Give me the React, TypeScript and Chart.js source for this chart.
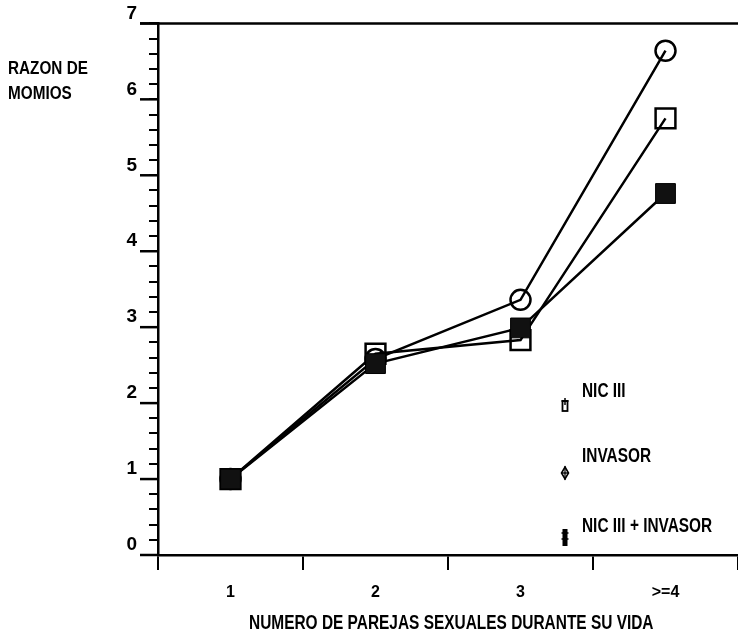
import React, { useEffect, useRef } from "react";
import { Chart, registerables } from "chart.js";
Chart.register(...registerables);

const categories = ["1", "2", "3", ">=4"];
const nicIII = [1.0, 2.65, 2.83, 5.75];
const invasor = [1.0, 2.58, 3.36, 6.64];
const nicInvasor = [1.0, 2.52, 2.99, 4.76];
const yMin = 0;
const yMax = 7;
const yMinorStep = 0.2;
const seriesNames = ["NIC III", "INVASOR", "NIC III + INVASOR"];
const xTitle = "NUMERO DE PAREJAS SEXUALES DURANTE SU VIDA";
const yTitle = ["RAZON DE", "MOMIOS"];

const FONT_FAMILY = '"Liberation Sans", Arial, Helvetica, sans-serif';

const framePlugin = {
  id: "frame",
  afterDraw(chart: any) {
    const { ctx, chartArea, scales } = chart;
    const y = scales.y;
    ctx.save();
    ctx.strokeStyle = "#000";
    ctx.lineWidth = 2.5;
    for (let v = yMin; v <= yMax; v++) {
      const py = y.getPixelForValue(v);
      ctx.beginPath();
      ctx.moveTo(chartArea.left - 18, py);
      ctx.lineTo(chartArea.left, py);
      ctx.stroke();
    }
    const top = y.getPixelForValue(yMax);
    ctx.beginPath();
    ctx.moveTo(chartArea.left - 18, top);
    ctx.lineTo(chartArea.right + 5, top);
    ctx.stroke();
    ctx.restore();
  },
};

export default function App() {
  const ref = useRef<HTMLCanvasElement | null>(null);
  useEffect(() => {
    if (!ref.current) return;
    const chart = new Chart(ref.current, {
      type: "line",
      data: {
        labels: categories,
        datasets: [
          {
            label: seriesNames[2],
            data: nicInvasor,
            order: 0,
            borderColor: "#000",
            borderWidth: 2.5,
            pointStyle: "rect",
            pointRadius: 14,
            pointBackgroundColor: "#111",
            pointBorderColor: "#000",
            pointBorderWidth: 1,
            tension: 0,
          },
          {
            label: seriesNames[0],
            data: nicIII,
            order: 1,
            borderColor: "#000",
            borderWidth: 2.5,
            pointStyle: "rect",
            pointRadius: 14,
            pointBackgroundColor: "rgba(0,0,0,0)",
            pointBorderColor: "#000",
            pointBorderWidth: 2.5,
            tension: 0,
          },
          {
            label: seriesNames[1],
            data: invasor,
            order: 2,
            borderColor: "#000",
            borderWidth: 2.5,
            pointStyle: "circle",
            pointRadius: 10,
            pointBackgroundColor: "rgba(0,0,0,0)",
            pointBorderColor: "#000",
            pointBorderWidth: 2.5,
            tension: 0,
          },
        ],
      },
      options: {
        animation: false,
        responsive: false,
        maintainAspectRatio: false,
        devicePixelRatio: 1,
        layout: { autoPadding: false, padding: { top: 23, right: 0, left: 0, bottom: 0 } },
        plugins: { legend: { display: false }, tooltip: { enabled: false } },
        scales: {
          x: {
            type: "category",
            offset: true,
            afterFit: (s: any) => {
              s.height = 82;
              s.paddingLeft = 0;
              s.paddingRight = 0;
            },
            border: { display: true, color: "#000", width: 2.5 },
            grid: { offset: true, drawOnChartArea: false, tickLength: 15, color: "#000", lineWidth: 2 },
            ticks: { padding: 13, color: "#000", font: { family: FONT_FAMILY, size: 16, weight: "bold" } },
          },
          y: {
            type: "linear",
            min: yMin,
            max: yMax,
            afterFit: (s: any) => {
              s.width = 158;
            },
            border: { display: true, color: "#000", width: 2.5 },
            grid: { drawOnChartArea: false, tickLength: 9, color: "#000", lineWidth: 2 },
            ticks: {
              stepSize: yMinorStep,
              autoSkip: false,
              padding: 12,
              labelOffset: -10,
              color: "#000",
              font: { family: FONT_FAMILY, size: 19, weight: "bold" },
              callback: (v: any) => {
                const n = Number(v);
                return Math.abs(n - Math.round(n)) < 1e-6 ? String(Math.round(n)) : "";
              },
            },
          },
        },
      },
      plugins: [framePlugin],
    });
    return () => chart.destroy();
  }, []);

  const textStyle: React.CSSProperties = {
    position: "absolute",
    fontFamily: FONT_FAMILY,
    fontWeight: "bold",
    fontSize: 20,
    color: "#000",
    whiteSpace: "nowrap",
    lineHeight: "24px",
    transform: "scaleX(0.77)",
    transformOrigin: "left top",
  };

  return (
    <div style={{ position: "absolute", left: 0, top: 0, width: 738, height: 637, background: "#fff", overflow: "hidden" }}>
      <canvas ref={ref} width={738} height={637} style={{ position: "absolute", left: 0, top: 0 }} />
      <div style={{ ...textStyle, fontSize: 18, lineHeight: "25px", transform: "scaleX(0.85)", left: 8, top: 56 }}>
        {yTitle[0]}
        <br />
        {yTitle[1]}
      </div>
      <div style={{ ...textStyle, fontSize: 21, transform: "scaleX(0.735)", left: 249, top: 610 }}>{xTitle}</div>
      <div style={{ ...textStyle, left: 582, top: 378 }}>{seriesNames[0]}</div>
      <div style={{ ...textStyle, left: 582, top: 443 }}>{seriesNames[1]}</div>
      <div style={{ ...textStyle, left: 582, top: 513 }}>{seriesNames[2]}</div>
      <svg width={10} height={18} style={{ position: "absolute", left: 560, top: 396 }}>
        <rect x={2.5} y={5} width={5} height={10} fill="none" stroke="#000" strokeWidth={1.8} />
        <line x1={1.5} y1={5} x2={8.5} y2={5} stroke="#000" strokeWidth={1.8} />
        <line x1={5} y1={2} x2={5} y2={9} stroke="#000" strokeWidth={1.5} />
      </svg>
      <svg width={10} height={18} style={{ position: "absolute", left: 560, top: 465 }}>
        <path d="M5 2 L8.5 8 L5 14 L1.5 8 Z" fill="none" stroke="#000" strokeWidth={1.6} />
        <line x1={1.5} y1={8} x2={8.5} y2={8} stroke="#000" strokeWidth={1.4} />
        <line x1={5} y1={1} x2={5} y2={15} stroke="#000" strokeWidth={1.2} />
      </svg>
      <svg width={10} height={22} style={{ position: "absolute", left: 560, top: 527 }}>
        <rect x={2.5} y={2} width={5} height={17} fill="#000" />
        <line x1={1.5} y1={6} x2={8.5} y2={6} stroke="#000" strokeWidth={1.5} />
        <line x1={1.5} y1={12} x2={8.5} y2={12} stroke="#000" strokeWidth={1.5} />
      </svg>
    </div>
  );
}
